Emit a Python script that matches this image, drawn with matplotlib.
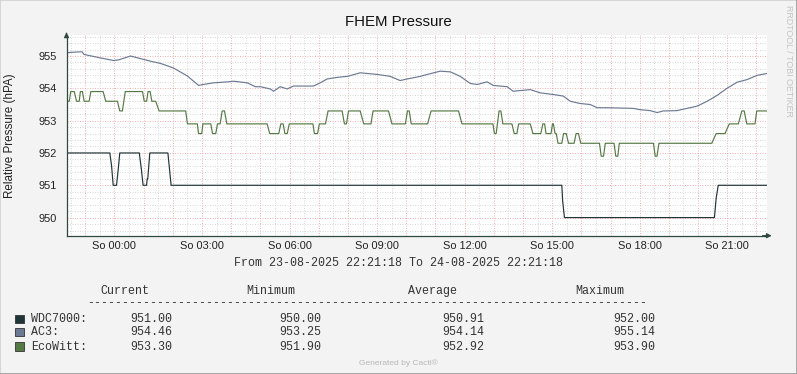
import numpy as np
import matplotlib.pyplot as plt
from matplotlib.patches import Rectangle
from matplotlib.lines import Line2D

plt.rcParams['font.family'] = ['Liberation Sans', 'DejaVu Sans']

# hours relative to 24-08-2025 00:00 (window 23-08 22:21:18 .. 24-08 22:21:18)
wdc_hours = [-1.645, -0.16, -0.10, -0.045, 0.07, 0.14, 0.18, 0.85, 0.92, 0.98, 1.10, 1.12,
             1.14, 1.21, 1.83, 1.94, 15.33, 15.36, 15.42, 20.56, 20.62, 20.69, 22.355]
wdc_values = [952, 952, 951.6, 951, 951, 951.6, 952, 952, 951.5, 951, 951, 951.2,
              951.2, 952, 952, 951, 951, 950.5, 950, 950, 950.6, 951, 951]

ac3_hours = [-1.645, -1.39, -1.11, -1.05, -0.48, -0.03, 0.14, 0.55, 0.89, 1.23, 1.58, 2.02,
             2.50, 2.88, 3.05, 3.39, 3.87, 4.08, 4.55, 4.83, 5.00, 5.34, 5.45, 5.68, 5.92,
             6.13, 6.82, 7.05, 7.29, 7.64, 7.98, 8.42, 9.01, 9.45, 9.79, 10.03, 10.48, 10.72,
             11.16, 11.51, 11.85, 12.19, 12.43, 12.77, 12.98, 13.46, 13.66, 14.25, 14.59,
             15.03, 15.38, 15.62, 15.96, 16.30, 16.54, 16.88, 17.33, 17.77, 18.01, 18.36,
             18.60, 18.80, 19.28, 19.62, 19.97, 20.31, 20.65, 20.99, 21.34, 21.68, 22.02, 22.355]
ac3_values = [955.10, 955.12, 955.13, 955.05, 954.94, 954.86, 954.88, 955.00, 954.92, 954.84,
              954.77, 954.63, 954.38, 954.09, 954.12, 954.17, 954.20, 954.22, 954.17, 954.05,
              954.05, 953.98, 953.91, 954.05, 953.98, 954.07, 954.07, 954.17, 954.29, 954.34,
              954.37, 954.48, 954.43, 954.37, 954.24, 954.29, 954.37, 954.43, 954.53, 954.51,
              954.37, 954.15, 954.12, 954.20, 954.09, 954.05, 953.91, 953.96, 953.86, 953.81,
              953.76, 953.60, 953.53, 953.50, 953.40, 953.40, 953.39, 953.38, 953.34, 953.31,
              953.25, 953.30, 953.31, 953.38, 953.45, 953.60, 953.78, 954.00, 954.19, 954.27,
              954.40, 954.46]

eco_hours = [-1.645, -1.55, -1.50, -1.38, -1.30, -1.21, -1.17, -1.10, -1.04, -0.87, -0.81,
             -0.39, -0.30, 0.10, 0.18, 0.27, 0.37, 0.96, 1.02, 1.10, 1.15, 1.22, 1.28, 1.41,
             1.53, 2.44, 2.50, 2.84, 2.88, 2.99, 3.03, 3.30, 3.36, 3.47, 3.53, 3.62, 3.69,
             3.77, 3.85, 5.23, 5.32, 5.63, 5.70, 5.78, 5.84, 5.92, 5.99, 6.80, 6.85, 6.96,
             7.02, 7.23, 7.32, 7.80, 7.88, 7.95, 8.02, 8.42, 8.54, 8.79, 8.86, 9.39, 9.51,
             9.97, 10.04, 10.10, 10.17, 10.73, 10.85, 11.79, 11.91, 12.97, 13.02, 13.08,
             13.18, 13.24, 13.31, 13.62, 13.70, 13.79, 13.85, 14.25, 14.34, 14.61, 14.68,
             14.74, 14.79, 14.96, 15.01, 15.04, 15.10, 15.14, 15.20, 15.33, 15.39, 15.48,
             15.56, 15.75, 15.82, 15.90, 15.98, 16.62, 16.68, 16.76, 16.82, 17.12, 17.18,
             17.25, 17.30, 18.47, 18.53, 18.59, 18.66, 20.47, 20.62, 20.92, 21.07, 21.38,
             21.50, 21.58, 21.67, 21.95, 22.01, 22.355]
eco_values = [953.6, 953.6, 953.9, 953.9, 953.6, 953.6, 953.9, 953.9, 953.6, 953.6, 953.9,
              953.9, 953.6, 953.6, 953.3, 953.3, 953.9, 953.9, 953.6, 953.6, 953.9, 953.9,
              953.6, 953.6, 953.3, 953.3, 952.9, 952.9, 952.6, 952.6, 952.9, 952.9, 952.6,
              952.6, 952.9, 952.9, 953.3, 953.3, 952.9, 952.9, 952.6, 952.6, 952.9, 952.9,
              952.6, 952.6, 952.9, 952.9, 952.6, 952.6, 952.9, 952.9, 953.3, 953.3, 952.9,
              952.9, 953.3, 953.3, 952.9, 952.9, 953.3, 953.3, 952.9, 952.9, 953.3, 953.3,
              952.9, 952.9, 953.3, 953.3, 952.9, 952.9, 952.6, 952.6, 953.3, 953.3, 952.9,
              952.9, 952.6, 952.6, 952.9, 952.9, 952.6, 952.6, 952.9, 952.9, 952.6, 952.6,
              952.9, 952.9, 952.6, 952.6, 952.3, 952.3, 952.6, 952.6, 952.3, 952.3, 952.6,
              952.6, 952.3, 952.3, 951.9, 951.9, 952.3, 952.3, 951.9, 951.9, 952.3, 952.3,
              951.9, 951.9, 952.3, 952.3, 952.6, 952.6, 952.9, 952.9, 953.3, 953.3, 952.9,
              952.9, 953.3, 953.3]

x_tick_hours = [0, 3, 6, 9, 12, 15, 18, 21]
x_tick_labels = ["So 00:00", "So 03:00", "So 06:00", "So 09:00",
                 "So 12:00", "So 15:00", "So 18:00", "So 21:00"]
y_ticks = [950, 951, 952, 953, 954, 955]

series_names = ["WDC7000:", "AC3:", "EcoWitt:"]
series_colors = ["#1f3537", "#6b7a93", "#557a45"]
stat_current = [951.00, 954.46, 953.30]
stat_minimum = [950.00, 953.25, 951.90]
stat_average = [950.91, 954.14, 952.92]
stat_maximum = [952.00, 955.14, 953.90]
stat_headers = ["Current", "Minimum", "Average", "Maximum"]

W, H = 797, 374


def fx(x):
    return x / W


def fy(y):
    return 1 - y / H


fig = plt.figure(figsize=(W / 100, H / 100), dpi=100, facecolor="#f3f3f3")
ax = fig.add_axes([fx(66.5), fy(235.7), fx(766.8) - fx(66.5), fy(35) - fy(235.7)])
ax.set_facecolor("white")

ax.plot(wdc_hours, wdc_values, color=series_colors[0], lw=0.85, zorder=3)
ax.plot(ac3_hours, ac3_values, color=series_colors[1], lw=0.85, zorder=3)
ax.plot(eco_hours, eco_values, color=series_colors[2], lw=0.85, zorder=3)

ax.set_xlim(-1.645, 22.355)
ax.set_ylim(949.44, 955.65)

# grid: red every hour / integer hPa, grey every 30 min / 0.2 hPa
all_hours = list(range(-1, 23))
ax.set_xticks(all_hours)
ax.set_xticklabels([x_tick_labels[x_tick_hours.index(h)] if h in x_tick_hours else ""
                    for h in all_hours])
ax.set_xticks(np.arange(-1.5, 22.4, 0.5), minor=True)
ax.set_yticks(y_ticks)
ax.set_yticklabels([str(v) for v in y_ticks])
ax.set_yticks(np.arange(949.6, 955.65, 0.2), minor=True)

ax.grid(True, which="minor", color="#d2d2d2", lw=0.6, ls=(0, (1.2, 1.8)), zorder=1)
ax.grid(True, which="major", color="#eea6a6", lw=0.6, ls=(0, (1.2, 1.8)), zorder=2)
ax.tick_params(which="both", length=0, labelsize=7.9, colors="#222222")
ax.tick_params(axis="x", pad=4)
ax.tick_params(axis="y", pad=7)

axis_col = "#2e4a40"
for s in ["top", "right"]:
    ax.spines[s].set_visible(False)
for s in ["left", "bottom"]:
    ax.spines[s].set_color(axis_col)
    ax.spines[s].set_linewidth(0.9)
    ax.spines[s].set_zorder(4)

ax.annotate("", xy=(1.011, 0), xytext=(0.99, 0), xycoords="axes fraction",
            arrowprops=dict(arrowstyle="-|>", color=axis_col, lw=0.9, mutation_scale=7))
ax.annotate("", xy=(0, 1.027), xytext=(0, 0.99), xycoords="axes fraction",
            arrowprops=dict(arrowstyle="-|>", color=axis_col, lw=0.9, mutation_scale=7))

fig.text(0.5, fy(22), "FHEM Pressure", ha="center", va="center", fontsize=10.8, color="#111111")
fig.text(fx(10.5), fy(135.4), "Relative Pressure (hPA)", rotation=90, ha="center",
         va="center", fontsize=8.4, color="#222222")
fig.text(fx(788), fy(5), "RRDTOOL / TOBI OETIKER", rotation=270, ha="center", va="top",
         fontsize=6.4, color="#c4c4c4")

mono = "Liberation Mono"
fig.text(0.5, fy(263.3), "From 23-08-2025 22:21:18 To 24-08-2025 22:21:18",
         ha="center", va="center", family=mono, fontsize=8.4, color="#333333")

header_x = [100, 246.7, 408.3, 575.7]
value_x = [130, 279.3, 442.7, 613.3]
for hx, name in zip(header_x, stat_headers):
    fig.text(fx(hx), fy(290.7), name, ha="left", va="center", family=mono,
             fontsize=8.4, color="#333333")
fig.text(fx(86.7), fy(303.3), "-" * 80, ha="left", va="center", family=mono,
         fontsize=8.4, color="#333333")

row_y = [319, 332.3, 346.7]
for i, name in enumerate(series_names):
    y = row_y[i]
    fig.patches.append(Rectangle((fx(15), fy(y + 4)), fx(8.5), fy(0) - fy(8.5),
                                 transform=fig.transFigure, facecolor=series_colors[i],
                                 edgecolor="#333333", lw=0.6))
    fig.text(fx(30.7), fy(y), name, ha="left", va="center", family=mono,
             fontsize=8.4, color="#333333")
    vals = [stat_current[i], stat_minimum[i], stat_average[i], stat_maximum[i]]
    for vx, v in zip(value_x, vals):
        fig.text(fx(vx), fy(y), "%.2f" % v, ha="left", va="center", family=mono,
                 fontsize=8.4, color="#333333")

fig.text(0.5, fy(362.7), "Generated by Cacti®", ha="center", va="center",
         fontsize=6, color="#b8b8b8")

# frame around the image
fig.lines.append(Line2D([0, 0, 1], [0, 1, 1], transform=fig.transFigure,
                        color="#cfcfcf", lw=1.2))
fig.lines.append(Line2D([0, 1, 1], [0, 0, 1], transform=fig.transFigure,
                        color="#9a9a9a", lw=1.2))

fig.savefig("out.png", dpi=100, facecolor=fig.get_facecolor())
